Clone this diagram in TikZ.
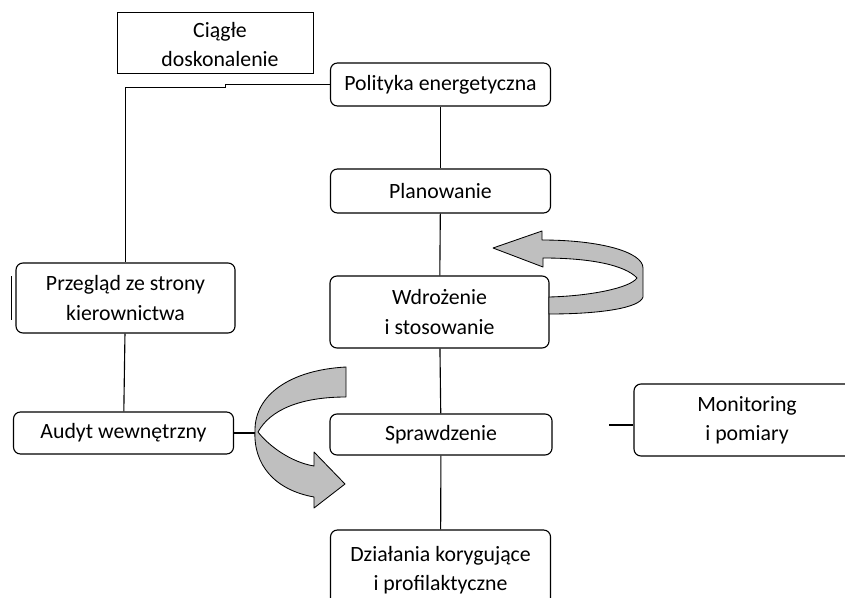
\documentclass[tikz,border=0pt]{standalone}
\usepackage{fontspec}
\setmainfont{Carlito}

\tikzset{
    krok/.style={draw, rounded corners=5pt, fill=white, align=center, inner sep=0pt, line width=0.8pt, minimum width=5.5cm},
    linia/.style={line width=0.8pt},
    wstega/.style={draw, fill=gray!50, line width=0.6pt, line join=round}
}

\begin{document}
\begin{tikzpicture}[x=0.025cm, y=-0.025cm, font=\fontsize{15.5}{20.8}\selectfont]
    \useasboundingbox (0,0) rectangle (845,597);

    % kroki cyklu
    \node[krok, rounded corners=0pt, line width=0.7pt, minimum width=4.875cm, minimum height=1.5cm] (ciagle) at (215.5,43) {};
    \node[align=center, inner sep=0pt] (ciagletekst) at (220,44.5) {Ciągłe\\doskonalenie};
    \node[krok, minimum height=1.075cm] (polityka) at (440.5,84.5) {Polityka energetyczna};
    \node[krok, minimum height=1.1cm] (planowanie) at (440.5,191) {Planowanie};
    \node[krok, minimum width=5.475cm, minimum height=1.8cm] (wdrozenie) at (439.5,312) {Wdrożenie\\i stosowanie};
    \node[krok, minimum width=5.55cm, minimum height=1.025cm] (sprawdzenie) at (441,434.5) {Sprawdzenie};
    \node[krok, minimum height=2cm] (dzialania) at (440.5,570) {Działania korygujące\\i profilaktyczne};
    \node[krok, minimum width=5.475cm, minimum height=1.75cm] (przeglad) at (125.5,298) {Przegląd ze strony\\kierownictwa};
    \node[krok, minimum height=1.05cm] (audyt) at (123.5,433) {Audyt wewnętrzny};
    \node[krok, minimum width=5.65cm, minimum height=1.8cm] (monitoring) at (747,420) {Monitoring\\i pomiary};
    \draw[linia] ([xshift=-2.5]przeglad.west) ++(0,-22) -- ++(0,44);

    % polaczenia
    \draw[linia] (polityka.west) -- ++(-104,0) -- ++(0,3) -| (przeglad.north);
    \draw[linia] (polityka) -- (planowanie);
    \draw[linia] (planowanie) -- (wdrozenie);
    \draw[linia] (wdrozenie) -- (sprawdzenie);
    \draw[linia] (sprawdzenie) -- (dzialania);
    \draw[linia] (przeglad) -- (audyt);
    \coordinate (audytkoniec) at (256,433);
    \draw[linia] (audyt.east) -- (audytkoniec);
    \coordinate (monstart) at (609,425);
    \draw[linia] (monstart) -- (monstart -| monitoring.west);

    % strzalka przy wdrozeniu
    \draw[wstega] (493,248) -- (542,231) -- (542,240)
        .. controls (600,240) and (643,252) .. (643,268) -- (643,297)
        .. controls (640,308) and (600,314) .. (549,314) -- (549,297)
        .. controls (590,296) and (630,288) .. (637,278)
        .. controls (625,265) and (590,258) .. (543,258) -- (543,267) -- cycle;

    % strzalka przy audycie
    \draw[wstega] (346,367)
        .. controls (290,370) and (255,395) .. (255,430)
        .. controls (253,465) and (275,490) .. (314,497) -- (314,508) -- (345,484) -- (314,452) -- (314,466)
        .. controls (290,462) and (268,445) .. (258,432)
        .. controls (270,410) and (300,397) .. (346,397) -- cycle;
\end{tikzpicture}
\end{document}
